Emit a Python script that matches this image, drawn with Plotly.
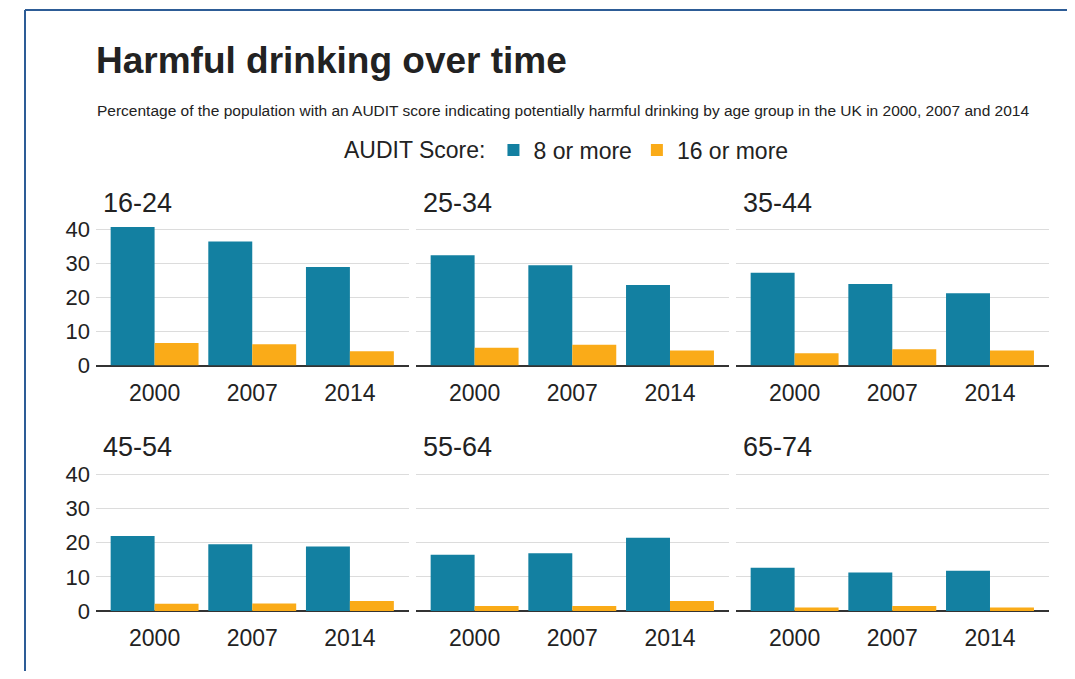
import plotly.graph_objects as go

# Data (percent of population)
years = ["2000", "2007", "2014"]
age_groups = ["16-24", "25-34", "35-44", "45-54", "55-64", "65-74"]
audit_8_or_more = [
    [40.6, 36.4, 28.9],
    [32.3, 29.4, 23.6],
    [27.2, 23.9, 21.2],
    [22.0, 19.6, 18.9],
    [16.5, 16.9, 21.5],
    [12.7, 11.3, 11.8],
]
audit_16_or_more = [
    [6.6, 6.2, 4.2],
    [5.2, 6.1, 4.4],
    [3.6, 4.8, 4.4],
    [2.1, 2.2, 2.9],
    [1.5, 1.5, 2.9],
    [1.0, 1.5, 1.0],
]
y_ticks = [0, 10, 20, 30, 40]

BLUE = "#1380A1"
ORANGE = "#FAAB18"
FONT = "Liberation Sans, Arial, Helvetica, sans-serif"
# the page body has an 8px margin; size the figure so the page fits the window
PAGE_OFF = 8
W, H = 1075 - 2 * PAGE_OFF, 679 - 2 * PAGE_OFF

# panel geometry in screen pixels
col_x = [(96, 408.5), (416, 728.6), (736, 1048.6)]
row_y = [(222.3, 365.5), (467.7, 611.0)]
title_y = [203, 447]


def px_x(v):
    return (v - PAGE_OFF) / W


def px_y(v):
    return 1 - (v - PAGE_OFF) / H


fig = go.Figure()
layout_axes = {}
annotations = []

for i, age in enumerate(age_groups):
    r, c = divmod(i, 3)
    n = i + 1
    xa = "x" if n == 1 else f"x{n}"
    ya = "y" if n == 1 else f"y{n}"
    fig.add_trace(go.Bar(
        x=years, y=audit_8_or_more[i], name="8 or more",
        marker=dict(color=BLUE, line=dict(width=0)),
        xaxis=xa, yaxis=ya, legendgroup="8", showlegend=(i == 0),
    ))
    fig.add_trace(go.Bar(
        x=years, y=audit_16_or_more[i], name="16 or more",
        marker=dict(color=ORANGE, line=dict(width=0)),
        xaxis=xa, yaxis=ya, legendgroup="16", showlegend=(i == 0),
    ))
    x0, x1 = col_x[c]
    y0, y1 = row_y[r]
    kx = "xaxis" if n == 1 else f"xaxis{n}"
    ky = "yaxis" if n == 1 else f"yaxis{n}"
    layout_axes[kx] = dict(
        domain=[px_x(x0), px_x(x1)], anchor=ya, type="category",
        categoryorder="array", categoryarray=years, range=[-0.6, 2.6],
        showgrid=False, zeroline=False, showline=False, ticks="", automargin=False,
        tickfont=dict(size=23, color="#222222", family=FONT), ticklabelstandoff=11,
    )
    layout_axes[ky] = dict(
        domain=[px_y(y1), px_y(y0)], anchor=xa, range=[0, 42],
        tickvals=y_ticks, showticklabels=(c == 0), automargin=False,
        showgrid=True, gridcolor="#dcdcdc", gridwidth=1,
        zeroline=True, zerolinecolor="#333333", zerolinewidth=1.5,
        showline=False, ticks="", ticklabelstandoff=5,
        tickfont=dict(size=22, color="#222222", family=FONT),
    )
    annotations.append(dict(
        text=age, xref="paper", yref="paper", x=px_x(x0 + 5), y=px_y(title_y[r]),
        xanchor="left", yanchor="middle", showarrow=False,
        font=dict(size=27, color="#222222", family=FONT),
    ))

annotations.append(dict(
    text="<b>Harmful drinking over time</b>", xref="paper", yref="paper",
    x=px_x(94), y=px_y(61), xanchor="left", yanchor="middle", showarrow=False,
    font=dict(size=37, color="#222222", family=FONT),
))
annotations.append(dict(
    text=("Percentage of the population with an AUDIT score indicating potentially "
          "harmful drinking by age group in the UK in 2000, 2007 and 2014"),
    xref="paper", yref="paper", x=px_x(95), y=px_y(110),
    xanchor="left", yanchor="middle", showarrow=False,
    font=dict(size=15.5, color="#222222", family=FONT),
))

# frame: only the top and left edges fall inside the picture
frame = dict(color="#2d5c96", width=2)
shapes = [
    dict(type="line", xref="paper", yref="paper", x0=px_x(25), x1=1,
         y0=px_y(10), y1=px_y(10), line=frame, layer="above"),
    dict(type="line", xref="paper", yref="paper", x0=px_x(25), x1=px_x(25),
         y0=0, y1=px_y(10), line=frame, layer="above"),
]

fig.update_layout(
    width=W, height=H,
    margin=dict(l=0, r=0, t=0, b=0, autoexpand=False),
    paper_bgcolor="white", plot_bgcolor="white",
    barmode="group", bargap=0.1, bargroupgap=0,
    font=dict(family=FONT, color="#222222"),
    legend=dict(
        orientation="h", x=px_x(568), xanchor="center", y=px_y(150), yanchor="middle",
        title=dict(text="AUDIT Score:", font=dict(size=23, family=FONT)),
        font=dict(size=23, family=FONT), itemwidth=30,
    ),
    annotations=annotations,
    shapes=shapes,
    **layout_axes,
)

fig.write_html("out.html")
